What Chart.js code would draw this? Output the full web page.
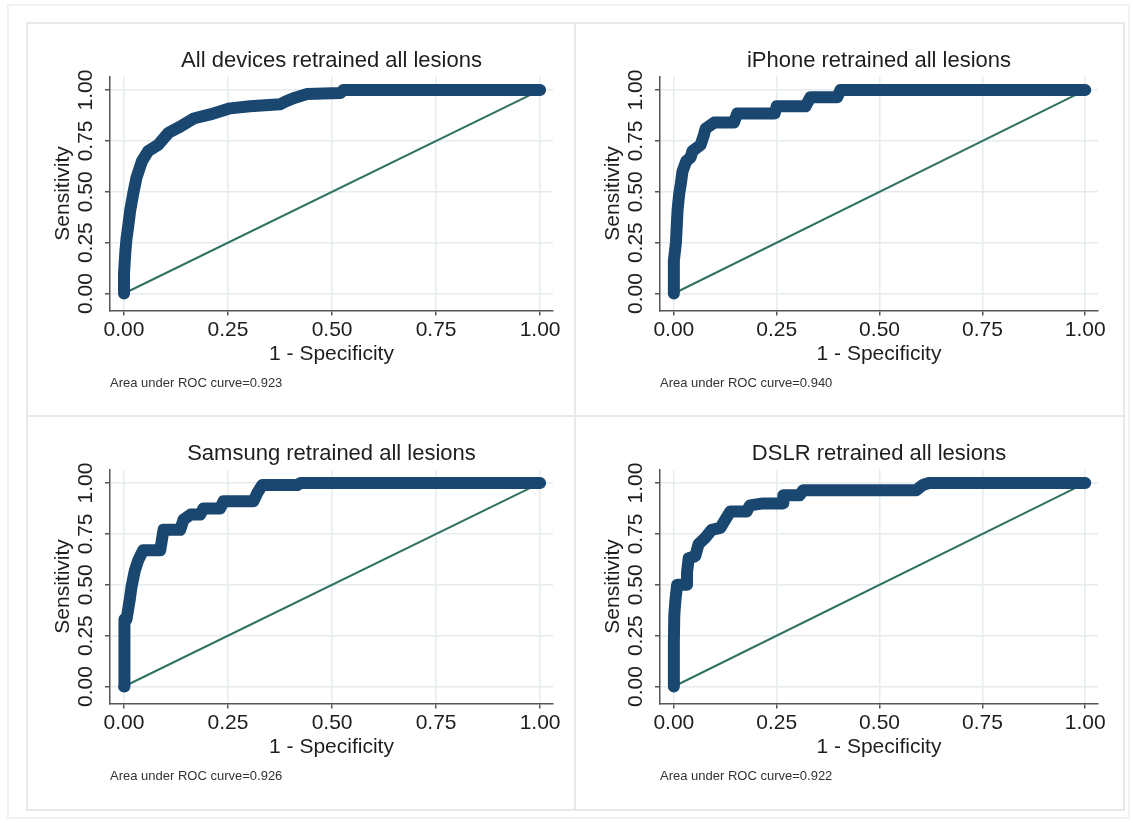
<!DOCTYPE html>
<html>
<head>
<meta charset="utf-8">
<script src="https://cdn.jsdelivr.net/npm/chart.js@4.4.1/dist/chart.umd.min.js"></script>
<style>
body { margin: 0; background: #fff; width: 1133px; height: 823px; position: relative; overflow: hidden; }
.frame { position: absolute; box-sizing: border-box; border: 2px solid #f2f2f2; }
.panel { position: absolute; box-sizing: border-box; border: 2px solid #e8e8e8; }
canvas { position: absolute; }
</style>
</head>
<body>
<div class="frame" style="left:7px;top:4px;width:1123px;height:815px"></div>
<div class="panel" style="left:26px;top:22px;width:550px;height:395px"></div>
<div class="panel" style="left:574px;top:22px;width:551px;height:395px"></div>
<div class="panel" style="left:26px;top:415px;width:550px;height:396px"></div>
<div class="panel" style="left:574px;top:415px;width:551px;height:396px"></div>

<canvas id="rocAll" width="547" height="392" style="left:27px;top:23px"></canvas>
<canvas id="rocIphone" width="542" height="392" style="left:577px;top:23px"></canvas>
<canvas id="rocSamsung" width="547" height="392" style="left:27px;top:416px"></canvas>
<canvas id="rocDslr" width="542" height="392" style="left:577px;top:416px"></canvas>

<script>
// tick values and labels, same for both axes
var tickVals = [0, 0.25, 0.5, 0.75, 1];
var tickLabels = ['0.00', '0.25', '0.50', '0.75', '1.00'];

// reference (chance) line
var refX = [0, 1];
var refY = [0, 1];

// ROC curves (1 - specificity, sensitivity)
var allFpr = [0, 0, 0.003, 0.006, 0.01, 0.015, 0.022, 0.03, 0.043, 0.058, 0.082, 0.107, 0.135, 0.167, 0.207, 0.255, 0.303, 0.375, 0.39, 0.407, 0.44, 0.52, 0.527, 1];
var allTpr = [0, 0.1, 0.2, 0.27, 0.33, 0.41, 0.49, 0.57, 0.65, 0.70, 0.73, 0.79, 0.82, 0.86, 0.88, 0.91, 0.92, 0.93, 0.945, 0.96, 0.98, 0.985, 1, 1];

var iphoneFpr = [0, 0, 0.005, 0.009, 0.013, 0.017, 0.021, 0.03, 0.041, 0.045, 0.065, 0.073, 0.077, 0.098, 0.146, 0.154, 0.245, 0.25, 0.32, 0.332, 0.397, 0.405, 1];
var iphoneTpr = [0, 0.16, 0.25, 0.41, 0.49, 0.54, 0.60, 0.65, 0.67, 0.70, 0.73, 0.78, 0.81, 0.84, 0.84, 0.885, 0.885, 0.92, 0.92, 0.965, 0.965, 1, 1];

var samsungFpr = [0, 0, 0.002, 0.006, 0.014, 0.018, 0.026, 0.034, 0.046, 0.087, 0.091, 0.095, 0.135, 0.143, 0.16, 0.183, 0.191, 0.231, 0.239, 0.311, 0.32, 0.332, 0.416, 0.424, 1];
var samsungTpr = [0, 0.18, 0.33, 0.33, 0.43, 0.49, 0.57, 0.62, 0.67, 0.67, 0.72, 0.77, 0.77, 0.82, 0.845, 0.845, 0.875, 0.875, 0.91, 0.91, 0.95, 0.99, 0.99, 1, 1];

var dslrFpr = [0, 0, 0.001, 0.004, 0.008, 0.032, 0.032, 0.036, 0.052, 0.06, 0.076, 0.092, 0.113, 0.125, 0.137, 0.177, 0.185, 0.217, 0.266, 0.266, 0.306, 0.314, 0.589, 0.605, 0.62, 1];
var dslrTpr = [0, 0.22, 0.35, 0.43, 0.50, 0.50, 0.56, 0.63, 0.64, 0.70, 0.73, 0.77, 0.78, 0.82, 0.86, 0.86, 0.89, 0.90, 0.90, 0.94, 0.94, 0.965, 0.965, 0.99, 1, 1];

var titles = ['All devices retrained all lesions', 'iPhone retrained all lesions', 'Samsung retrained all lesions', 'DSLR retrained all lesions'];
var aucs = ['0.923', '0.940', '0.926', '0.922'];

var FONT = '"Liberation Sans", Arial, sans-serif';
var navy = '#1a476f';
var green = '#2f7262';
var gridColor = '#e6ebee';
var axisColor = '#555555';
var textColor = '#1e1e1e';

Chart.defaults.font.family = FONT;

function toPoints(xs, ys) {
    return xs.map(function (v, i) { return { x: v, y: ys[i] }; });
}

function rocChart(id, title, auc, fpr, tpr) {
    return new Chart(document.getElementById(id), {
        type: 'scatter',
        data: {
            datasets: [
                {
                    data: toPoints(fpr, tpr),
                    showLine: true,
                    borderColor: navy,
                    backgroundColor: navy,
                    borderWidth: 12,
                    borderJoinStyle: 'round',
                    borderCapStyle: 'round',
                    pointRadius: 0
                },
                {
                    data: toPoints(refX, refY),
                    showLine: true,
                    borderColor: green,
                    borderWidth: 2,
                    pointRadius: 0
                }
            ]
        },
        options: {
            responsive: false,
            animation: false,
            events: [],
            layout: { padding: { left: 15, right: 21, top: 0, bottom: 24 } },
            plugins: {
                legend: { display: false },
                tooltip: { enabled: false },
                title: {
                    display: true,
                    text: title,
                    fullSize: false,
                    color: textColor,
                    font: { size: 22, weight: 'normal' },
                    padding: { top: 25, bottom: 2 }
                },
                subtitle: {
                    display: true,
                    text: 'Area under ROC curve=' + auc,
                    position: 'bottom',
                    align: 'start',
                    fullSize: false,
                    color: '#333333',
                    font: { size: 13 },
                    padding: { top: 9, bottom: 0 }
                }
            },
            scales: {
                x: {
                    type: 'linear',
                    min: -0.0337,
                    max: 1.031,
                    afterBuildTicks: function (s) { s.ticks = tickVals.map(function (v) { return { value: v }; }); },
                    afterFit: function (s) { s.height = 56; },
                    ticks: {
                        callback: function (v, i) { return tickLabels[i]; },
                        autoSkip: false,
                        maxRotation: 0,
                        padding: 2,
                        color: textColor,
                        font: { size: 21 }
                    },
                    grid: { color: gridColor, lineWidth: 1.5, tickColor: axisColor, tickLength: 5 },
                    border: { color: axisColor, width: 1.5 },
                    title: { display: true, text: '1 - Specificity', color: textColor, font: { size: 21 }, padding: { top: 0, bottom: 0 } }
                },
                y: {
                    type: 'linear',
                    min: -0.083,
                    max: 1.067,
                    afterBuildTicks: function (s) { s.ticks = tickVals.map(function (v) { return { value: v }; }); },
                    afterFit: function (s) { s.width = 68; },
                    ticks: {
                        callback: function (v, i) { return tickLabels[i]; },
                        autoSkip: false,
                        minRotation: 90,
                        maxRotation: 90,
                        crossAlign: 'center',
                        padding: -2,
                        color: textColor,
                        font: { size: 21 }
                    },
                    grid: { color: gridColor, lineWidth: 1.5, tickColor: axisColor, tickLength: 5 },
                    border: { color: axisColor, width: 1.5 },
                    title: { display: true, text: 'Sensitivity', color: textColor, font: { size: 21 }, padding: { top: 9, bottom: 0 } }
                }
            }
        }
    });
}

var chartAll = rocChart('rocAll', titles[0], aucs[0], allFpr, allTpr);
var chartIphone = rocChart('rocIphone', titles[1], aucs[1], iphoneFpr, iphoneTpr);
var chartSamsung = rocChart('rocSamsung', titles[2], aucs[2], samsungFpr, samsungTpr);
var chartDslr = rocChart('rocDslr', titles[3], aucs[3], dslrFpr, dslrTpr);
</script>
</body>
</html>
